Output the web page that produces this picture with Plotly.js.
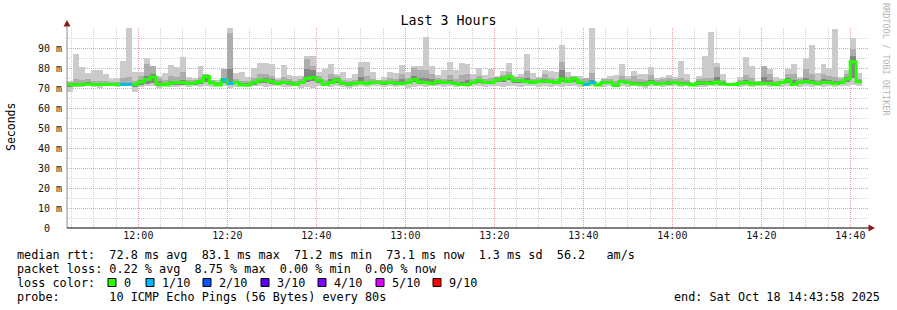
<!DOCTYPE html>
<html>
<head>
<meta charset="utf-8">
<script src="https://cdn.plot.ly/plotly-3.0.1.min.js"></script>
<style>html,body{margin:0;padding:0;background:#fff;}#chart{width:897px;height:310px;}</style>
</head>
<body>
<div id="chart"></div>
<script>
// ---- data (ms), one value per 80 s step ----
const pmax = [73.3,87,80.3,77.5,79,79,77,74.5,75,83.7,
 100,78,78,85,81,76,77.5,81.5,80.3,85.3,
 75.7,74.8,81,76,74,74,79.5,100,77.5,78,
 75.5,80,82.5,82.5,82,75,81.5,76.5,75.8,75.8,
 85.8,85.8,78,79.5,82,77,78,75,77,83,
 83,78,74,75.3,78,77.3,81.5,78,80.8,80.8,
 95.7,80.8,76.5,79,83.2,79,82.5,82,77,80,
 76.5,79.5,75.8,78.3,82.5,75.8,77,87,77.5,75.3,
 79.2,78.3,77.8,91.5,78.2,75.8,75.8,75,100,72.8,
 75,76.2,76.5,82,76.2,78.7,77,77,80.7,75,
 75.3,76.5,75.3,83.7,77,72.8,75.8,85.8,98,82.5,
 77,72.5,72.8,75.7,85.3,81,73.3,81,79.5,75.3,
 74.5,79.5,82,75.3,85,91.5,77.5,82,80,99.5,
 75.3,79,95,77.5];
const phi = [73,74.5,73.8,74.5,73.5,73.5,73.5,73,73.2,75,
 75.3,73.5,76,82,81,75,74,76,75.5,77.8,
 74,74,75.5,77,74,73,79.5,97.3,74.5,73.5,
 73.5,75,77,77,76,74,75.5,74.5,73.5,74.5,
 84.5,81,76,74,77,76,74,73.5,74,80.3,
 76,74.5,74,74,75,74.5,77,75,79.8,79,
 79,77,75,74.5,76.5,74.5,76.5,77,74.5,76,
 74.5,75,75.5,76.5,77.8,75.5,75.5,78.7,74.5,75,
 77,75,74.5,83.2,75.5,76,74.5,75,77.5,72.5,
 74.5,74.5,73.5,76,74.5,76,74.5,74,76.5,74,
 74.5,75,74.5,75,74,72.3,74.5,75.2,75.2,80.7,
 74,72.3,72.3,74,76.5,75,73,81,77,73.5,
 73.5,77,77,74.5,79.5,77,74,77,76,75.5,
 74.5,77,89.3,74.5];
const dhi = [72.5,72.3,72.5,73,72.5,72.5,72.5,72.5,72.5,72.5,
 72.5,72.5,74,76,77,73.5,72.3,73.5,73.3,74,
 73,73.2,74,76.5,73.2,72.3,75,79.5,73.5,72.3,
 72.3,73.5,74.5,75,74.5,73,73.5,73.3,72.5,73.5,
 79.5,79,74.5,72.5,74.5,75,73,72.7,73,75.5,
 73,73.5,73.5,73.2,73.5,73.3,74.5,73.5,76,75,
 75,74.5,74,73.5,74,73,73,74,73.5,74.5,
 73.5,73.5,75,75.5,76.5,74.5,74.5,75,73.5,74,
 74.5,74,73.5,79,74,75.2,73.5,72.5,74,72.2,
 73.5,73.5,72,74,73.5,73,72.8,72.8,73.8,72.8,
 73.2,73.3,73.5,73,72.8,72.2,73.3,73.3,73.3,75.5,
 73,72.3,72.3,73,74,73,73,75.5,74,72.5,
 73.3,75,74,73.5,75,74,73,74.5,74,73.5,
 73.5,75.5,86,74];
const plo = [70.5,70.8,71,71.3,71,71,71.2,71.3,71,71.2,
 71.2,70.5,71.5,72,72.5,71.2,71,71.5,71.7,71.7,
 71.5,71.7,72,73,71.8,71,72.5,71.5,71.8,71,
 71,71.7,72.5,72.5,72,71.5,71.8,71.7,71,71.8,
 73,73.5,72.5,71,71.8,72.7,71.5,71,71.3,71.8,
 71.5,71.8,71.8,71.7,71.8,71.7,71.5,71.8,72.8,72,
 71.8,71.5,72.2,71.8,71.8,71.5,71,71,71.8,72.5,
 71.8,71.8,72.8,73,74,72.5,72.5,72.3,71.8,72.3,
 72.5,72.3,71.8,73,72.3,73,71.8,71,71.8,71,
 71.8,71.8,70.7,72.3,71.8,71.3,71.3,71.2,71.8,71.3,
 71.5,71.7,71.8,71.3,71.3,71,71.7,71.7,71.5,72,
 71.3,71.3,71.3,71.5,71.8,71.3,71.7,71.5,71.5,71.2,
 71.8,72.5,71,71.8,72.3,71.8,71.5,71.8,71.8,71.5,
 71.8,73,75,72.3];
const pmin = [68,70.3,70.5,71,70.5,70.2,70.8,71,70.5,70.8,
 70.8,67.8,70.5,70.8,71,70.2,70.8,70.5,70.3,70.8,
 70.5,71,70.3,71,70.5,70.8,71,70.2,70.5,70.8,
 70.5,71,70.8,70.5,70.8,71,70.3,70.5,70.8,70.2,
 70.5,70.2,71,70.8,70.5,71,70.3,69.8,70.5,70.8,
 70.5,71,70.8,70.5,71,70.5,70.8,70.2,70.5,71,
 70.3,70.8,71,70.5,70.8,70.5,71,70.5,71,70.8,
 70.5,70.8,71,70.3,70.8,71,70.5,70.8,71,70.5,
 70.8,70.5,71,70.3,70.8,71,70.5,70.8,71,70.8,
 70.5,70.8,70.3,71,70.5,70.8,70.5,70.2,70.8,71,
 70.5,70.8,71,70.5,70.8,71,70.5,70.3,70.8,71,
 70.8,71,71,70.5,70.8,70.5,71,70.8,70.5,70.8,
 70.5,70.8,71,70.5,70.8,70.3,71,70.5,70.8,70.5,
 70.8,71,71.3,71];
const med = [71.8,71.5,71.8,72,71.8,71.8,71.8,71.8,71.8,71.8,
 71.8,71.8,73,74.3,75.5,72,71.5,72.5,72.7,72.7,
 72.3,72.5,73.3,75.8,72.5,71.5,74,72.3,72.7,71.5,
 71.5,72.7,73.8,73.7,73.3,72.3,72.7,72.5,71.8,72.8,
 74.7,75.3,73.7,71.8,72.8,74,72.3,72,72.2,72.8,
 72.3,72.7,72.7,72.5,72.7,72.5,72.3,72.8,74.2,73,
 72.8,72.3,73.2,72.7,72.7,72.3,71.7,71.7,72.7,73.7,
 72.7,72.7,74,74.5,75.8,73.7,73.7,73.3,72.7,73.2,
 73.5,73.2,72.7,74.5,73.3,74.5,72.8,71.8,72.7,71.5,
 72.7,72.7,71.2,73.2,72.8,72,72,72,72.8,72,
 72.3,72.5,72.7,72,72,71.5,72.5,72.5,72.3,73,
 72,71.8,71.8,72.3,72.7,72,72.5,72.3,72.3,71.8,
 72.7,73.7,71.8,72.7,73.3,72.7,72.3,72.8,72.7,72.3,
 72.7,74.5,83.1,73.1];
const loss = [0,0,0,0,0,0,0,0,0,1,
 1,0,0,0,0,0,0,0,0,0,
 0,0,0,0,0,0,1,1,0,0,
 0,0,0,0,0,0,0,0,0,0,
 0,0,0,0,0,0,0,0,0,0,
 0,0,0,0,0,0,0,0,0,0,
 0,0,0,0,0,0,0,0,0,0,
 0,0,0,0,0,0,0,0,0,0,
 0,0,0,0,0,0,0,1,1,0,
 0,0,0,0,0,0,0,0,0,0,
 0,0,0,0,0,0,0,0,0,0,
 0,0,0,0,0,0,0,0,0,0,
 0,0,0,0,0,0,0,0,0,0,
 0,0,0,0];
const yTickVals = [0,10,20,30,40,50,60,70,80,90];
const yTickText = ['0\u00a0\u00a0','10 m','20 m','30 m','40 m','50 m','60 m','70 m','80 m','90 m'];
const lossLabels = ['0','1/10','2/10','3/10','4/10','5/10','9/10'];
const lossColors = ['#26ff00','#00b8ff','#0059ff','#5e00ff','#7e00ff','#dd00ff','#ff0000'];
const statsRtt = 'median rtt:  72.8 ms avg  83.1 ms max  71.2 ms min  73.1 ms now  1.3 ms sd  56.2   am/s';
const statsLoss = 'packet loss: 0.22 % avg  8.75 % max  0.00 % min  0.00 % now';
const probeText = 'probe:       10 ICMP Echo Pings (56 Bytes) every 80s';
const endText = 'end: Sat Oct 18 14:43:58 2025';

// ---- time scale ----
const START = Date.UTC(2025,9,18,11,43,58);
const STEP = 80000;
const END = START + 3*3600*1000;
const xc = med.map((_,i)=>START + i*STEP + STEP/2);
const xs = med.map((_,i)=>START + i*STEP);
const TICK0 = Date.UTC(2025,9,18,11,45,0);
const MAJOR = 1200000, MINOR = 300000;
const minorX = [];
for(let t=TICK0; t<=END; t+=MINOR){ if(((t-Date.UTC(2025,9,18,12,0,0))%MAJOR+MAJOR)%MAJOR!==0) minorX.push(t); }
const minorY = [5,15,25,35,45,55,65,75,85,95];

// ---- pixel helpers for decorations ----
const W=897,H=310,L=67,R=868,T=28,B=228;
const ax = p => (p-L)/(R-L);
const ay = p => (B-p)/(B-T);
const nb = s => s.replace(/ /g,'\u00a0');
const MONO = 'DejaVu Sans Mono, monospace';

function band(lo, hi, color){
  return {type:'bar', x:xc, base:lo, y:hi.map((v,i)=>v-lo[i]), width:STEP,
    marker:{color:color, line:{width:0}}, hoverinfo:'skip', showlegend:false};
}
// median line (green) plus loss-coloured segments
const lossX = [], lossY = [];
loss.forEach((l,i)=>{ if(l>0){ lossX.push(xs[i], xs[i]+STEP, null); lossY.push(med[i], med[i], null); } });
const traces = [
  band(pmin, pmax, '#cbcbcb'),
  band(plo, phi, '#adadad'),
  band(plo, dhi, '#858585'),
  {type:'scatter', mode:'lines', x:xs.concat([START+med.length*STEP]), y:med.concat([med[med.length-1]]),
   line:{shape:'hv', color:lossColors[0], width:3}, hoverinfo:'skip', showlegend:false},
  {type:'scatter', mode:'lines', x:lossX, y:lossY, connectgaps:false,
   line:{color:lossColors[1], width:3}, hoverinfo:'skip', showlegend:false}
];

const annotations = [
  {text:'Seconds', xref:'paper', yref:'paper', x:ax(11), y:ay(127), textangle:-90, showarrow:false,
   xanchor:'center', yanchor:'middle', font:{family:MONO, size:11.5, color:'#000'}},
  {text:'RRDTOOL / TOBI OETIKER', xref:'paper', yref:'paper', x:ax(886), y:ay(59), textangle:90, showarrow:false,
   xanchor:'center', yanchor:'middle', font:{family:MONO, size:8.5, color:'#b4b4b4'}},
  {text:nb(statsRtt), xref:'paper', yref:'paper', x:ax(16), y:ay(254.5), showarrow:false, xanchor:'left', yanchor:'middle', borderpad:0, font:{family:MONO,size:11.8,color:'#000'}},
  {text:nb(statsLoss), xref:'paper', yref:'paper', x:ax(16), y:ay(268.5), showarrow:false, xanchor:'left', yanchor:'middle', borderpad:0, font:{family:MONO,size:11.8,color:'#000'}},
  {text:nb('loss color:'), xref:'paper', yref:'paper', x:ax(16), y:ay(282.5), showarrow:false, xanchor:'left', yanchor:'middle', borderpad:0, font:{family:MONO,size:11.8,color:'#000'}},
  {text:nb(probeText), xref:'paper', yref:'paper', x:ax(16), y:ay(296.5), showarrow:false, xanchor:'left', yanchor:'middle', borderpad:0, font:{family:MONO,size:11.8,color:'#000'}},
  {text:nb(endText), xref:'paper', yref:'paper', x:ax(881), y:ay(296.5), showarrow:false, xanchor:'right', yanchor:'middle', borderpad:0, font:{family:MONO,size:11.8,color:'#000'}}
];
const boxX = [108,146,203,261,318,376,433];
const shapes = [];
lossLabels.forEach((lab,i)=>{
  shapes.push({type:'rect', xref:'paper', yref:'paper', x0:ax(boxX[i]), x1:ax(boxX[i]+8), y0:ay(286.5), y1:ay(278.5),
    fillcolor:lossColors[i], line:{color:'#000', width:1}});
  annotations.push({text:lab, xref:'paper', yref:'paper', x:ax(boxX[i]+15), y:ay(282.5), showarrow:false,
    xanchor:'left', yanchor:'middle', borderpad:0, font:{family:MONO,size:11.8,color:'#000'}});
});
// axis extensions and arrows
shapes.push({type:'line', xref:'paper', yref:'paper', x0:0, x1:0, y0:ay(228), y1:ay(24), line:{color:'#8c8c8c', width:1}});
shapes.push({type:'path', xref:'paper', yref:'paper',
  path:`M ${ax(63.5)},${ay(26.5)} L ${ax(70.5)},${ay(26.5)} L ${ax(67)},${ay(20)} Z`, fillcolor:'#8b1a1a', line:{width:0}});
shapes.push({type:'line', xref:'paper', yref:'paper', x0:0, x1:ax(869), y0:0, y1:0, line:{color:'#000', width:1}});
shapes.push({type:'path', xref:'paper', yref:'paper',
  path:`M ${ax(868.5)},${ay(224.5)} L ${ax(868.5)},${ay(231.5)} L ${ax(875)},${ay(228)} Z`, fillcolor:'#8b1a1a', line:{width:0}});

const layout = {
  width:W, height:H,
  margin:{l:L, r:W-R, t:T, b:H-B, pad:0},
  paper_bgcolor:'#ffffff', plot_bgcolor:'#ffffff',
  barmode:'overlay', bargap:0, showlegend:false,
  title:{text:'Last 3 Hours', font:{family:MONO, size:13.3, color:'#000'}, xref:'container', x:0.5, xanchor:'center', y:1-20/H, yref:'container', yanchor:'middle'},
  xaxis:{type:'date', range:[START, END], tickformat:'%H:%M', tick0:Date.UTC(2025,9,18,12,0,0), dtick:MAJOR,
    showgrid:true, gridcolor:'rgba(235,90,90,0.6)', griddash:'1px,1px', gridwidth:1,
    minor:{tickmode:'array', tickvals:minorX, showgrid:true, gridcolor:'#cfcfcf', griddash:'1px,1px', ticks:''},
    ticks:'', showline:false, zeroline:false, fixedrange:true,
    tickfont:{family:MONO, size:10, color:'#111'}},
  yaxis:{range:[0,100], tickvals:yTickVals, ticktext:yTickText,
    showgrid:true, gridcolor:'rgba(235,90,90,0.6)', griddash:'1px,1px', gridwidth:1,
    minor:{tickmode:'array', tickvals:minorY, showgrid:true, gridcolor:'#cfcfcf', griddash:'1px,1px', ticks:''},
    ticks:'', showline:false, zeroline:false, fixedrange:true, ticklabelstandoff:4,
    tickfont:{family:MONO, size:10, color:'#111'}},
  annotations:annotations, shapes:shapes
};
Plotly.newPlot('chart', traces, layout, {staticPlot:true, displayModeBar:false});
</script>
</body>
</html>
